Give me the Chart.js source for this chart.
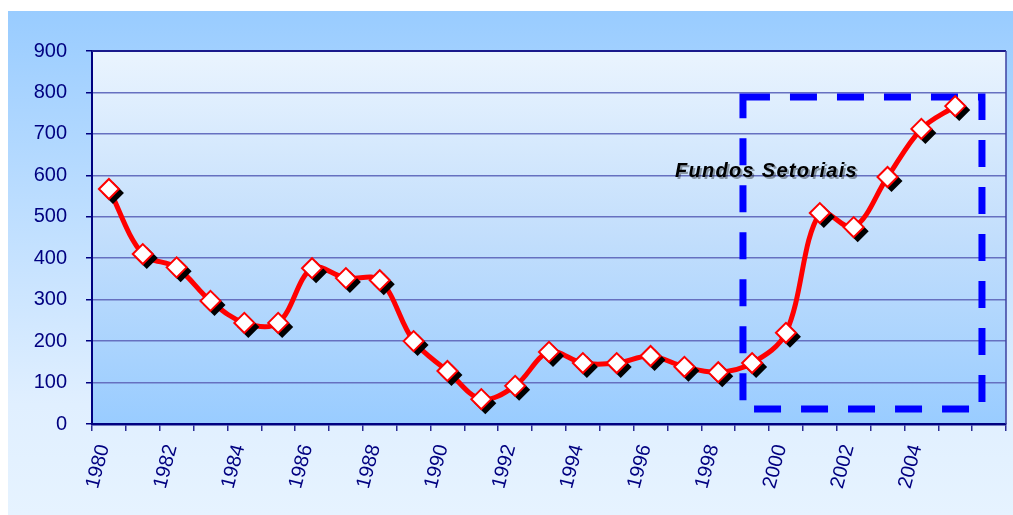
<!DOCTYPE html>
<html>
<head>
<meta charset="utf-8">
<script src="https://cdn.jsdelivr.net/npm/chart.js@4/dist/chart.umd.min.js"></script>
<style>
  html, body { margin: 0; padding: 0; background: #fff; }
  #wrap { width: 1013px; height: 515px; }
</style>
</head>
<body>
<div id="wrap"><canvas id="chart" width="1013" height="515"></canvas></div>
<script>
// categories: one per year, last slot is empty
const years = ['1980', '1981', '1982', '1983', '1984', '1985', '1986', '1987', '1988', '1989',
    '1990', '1991', '1992', '1993', '1994', '1995', '1996', '1997', '1998', '1999',
    '2000', '2001', '2002', '2003', '2004', '2005', ''];

const values = [567, 410, 378, 297, 244, 244, 376, 352, 347, 200,
    128, 60, 92, 174, 147, 147, 164, 138, 125, 147,
    220, 509, 475, 596, 712, 767, null];

const yTicks = [0, 100, 200, 300, 400, 500, 600, 700, 800, 900];

const boxLabel = 'Fundos Setoriais';

const NAVY = '#000080';
const FONT = '"Liberation Sans", Arial, sans-serif';

// backgrounds, plot frame, dashed box
const backgroundPlugin = {
    id: 'backgrounds',
    beforeDraw(chart) {
        const { ctx, chartArea: a } = chart;
        ctx.save();
        const g = ctx.createLinearGradient(0, 11, 0, 515);
        g.addColorStop(0, '#99ccff');
        g.addColorStop(0.78, '#e0efff');
        g.addColorStop(1, '#e6f3ff');
        ctx.fillStyle = g;
        ctx.fillRect(8, 11, chart.width - 8, chart.height - 11);

        const p = ctx.createLinearGradient(0, a.top, 0, a.bottom);
        p.addColorStop(0, '#eaf4fe');
        p.addColorStop(0.5, '#c2defc');
        p.addColorStop(1, '#99ccff');
        ctx.fillStyle = p;
        ctx.fillRect(a.left, a.top, a.right - a.left, a.bottom - a.top);
        ctx.restore();
    },
    beforeDatasetsDraw(chart) {
        const { ctx, chartArea: a, scales } = chart;
        ctx.save();
        ctx.strokeStyle = '#1a1a8c';
        ctx.lineWidth = 2;
        ctx.beginPath();
        ctx.moveTo(a.left, a.top);
        ctx.lineTo(a.right, a.top);
        ctx.stroke();
        ctx.strokeStyle = '#3c40a0';
        ctx.lineWidth = 1.5;
        ctx.beginPath();
        ctx.moveTo(a.right, a.top);
        ctx.lineTo(a.right, a.bottom);
        ctx.stroke();

        const x0 = scales.x.getPixelForValue(18.73);
        const x1 = scales.x.getPixelForValue(25.79);
        const y0 = scales.y.getPixelForValue(789);
        const y1 = scales.y.getPixelForValue(36);
        ctx.strokeStyle = '#0000ff';
        ctx.lineWidth = 7;
        ctx.setLineDash([27, 20]);
        ctx.strokeRect(x0, y0, x1 - x0, y1 - y0);
        ctx.setLineDash([]);

        ctx.font = 'italic bold 20px ' + FONT;
        ctx.letterSpacing = '1.3px';
        ctx.textAlign = 'left';
        ctx.textBaseline = 'alphabetic';
        ctx.shadowColor = 'rgba(0,0,0,0.35)';
        ctx.shadowOffsetX = 2;
        ctx.shadowOffsetY = 2;
        ctx.fillStyle = '#000';
        ctx.fillText(boxLabel, scales.x.getPixelForValue(16.72), scales.y.getPixelForValue(596));
        ctx.restore();
    }
};

// black drop shadow diamonds under the markers
const markerShadowPlugin = {
    id: 'markerShadow',
    beforeDatasetDraw(chart, args) {
        if (args.meta.label !== 'markers') return;
        const ctx = chart.ctx;
        const r = 11;
        ctx.save();
        ctx.fillStyle = '#000';
        args.meta.data.forEach(pt => {
            if (pt.skip) return;
            const x = pt.x + 4, y = pt.y + 4;
            ctx.beginPath();
            ctx.moveTo(x - r, y);
            ctx.lineTo(x, y - r);
            ctx.lineTo(x + r, y);
            ctx.lineTo(x, y + r);
            ctx.closePath();
            ctx.fill();
        });
        ctx.restore();
    }
};

new Chart(document.getElementById('chart'), {
    type: 'line',
    data: {
        labels: years,
        datasets: [
            {
                label: 'line',
                data: values,
                borderColor: '#ff0000',
                borderWidth: 5,
                tension: 0.35,
                pointRadius: 0,
                fill: false,
                clip: false,
                order: 2
            },
            {
                label: 'markers',
                data: values,
                showLine: false,
                pointStyle: 'rectRot',
                pointRadius: 10,
                pointBackgroundColor: '#ffffff',
                pointBorderColor: '#ff0000',
                pointBorderWidth: 2,
                clip: false,
                order: 1
            }
        ]
    },
    options: {
        responsive: false,
        animation: false,
        events: [],
        layout: {
            autoPadding: false,
            padding: { left: 0, top: 51, right: 7, bottom: 0 }
        },
        plugins: {
            legend: { display: false },
            tooltip: { enabled: false }
        },
        scales: {
            x: {
                type: 'category',
                offset: true,
                afterFit(scale) {
                    scale.height = 91;
                    scale.paddingLeft = 0;
                    scale.paddingRight = 0;
                },
                grid: {
                    offset: true,
                    drawOnChartArea: false,
                    drawTicks: true,
                    tickLength: 7,
                    color: '#2a2a96',
                    lineWidth: 1.5
                },
                border: { color: NAVY, width: 2.5 },
                ticks: {
                    autoSkip: false,
                    minRotation: 75,
                    maxRotation: 75,
                    padding: 11,
                    labelOffset: -5,
                    color: NAVY,
                    font: { family: FONT, size: 20 },
                    callback(v, i) {
                        return i % 2 === 0 ? this.getLabelForValue(v) : '';
                    }
                }
            },
            y: {
                min: yTicks[0],
                max: yTicks[yTicks.length - 1],
                afterFit(scale) {
                    scale.width = 92;
                    scale.paddingTop = 0;
                    scale.paddingBottom = 0;
                },
                afterBuildTicks(scale) {
                    scale.ticks = yTicks.map(v => ({ value: v }));
                },
                grid: {
                    color: '#6670c0',
                    lineWidth: 1.5,
                    tickLength: 6,
                    tickColor: NAVY
                },
                border: { color: NAVY, width: 2 },
                ticks: {
                    padding: 19,
                    color: NAVY,
                    font: { family: FONT, size: 20 }
                }
            }
        }
    },
    plugins: [backgroundPlugin, markerShadowPlugin]
});
</script>
</body>
</html>
